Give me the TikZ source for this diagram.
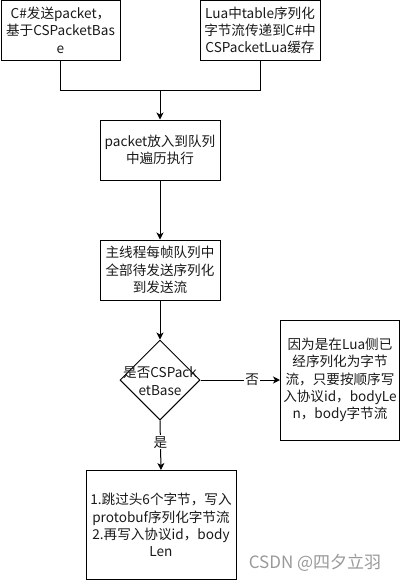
\documentclass[tikz,border=0pt]{standalone}
\usepackage{fontspec}
\setmainfont{Noto Sans CJK SC}
\usetikzlibrary{arrows.meta,shapes.geometric}
\newcommand\fs{\fontsize{13.6}{17.3}\selectfont}
\begin{document}
\begin{tikzpicture}[x=1pt,y=-1pt, line width=1pt,
 box/.style={draw, rectangle, inner sep=0pt, align=center, font=\fs, text=black!90},
 arr/.style={-{Stealth[length=7pt,width=7pt,inset=2pt]}},
 lbl/.style={fill=white, inner sep=1pt, font=\fs, text=black!90}]
\useasboundingbox (0,0) rectangle (401,581);
\node[box, minimum width=119pt, minimum height=59.5pt] (b1) at (60.5,30.25) {C\#发送packet，\\基于CSPacketBas\\e};
\node[box, minimum width=120pt, minimum height=59.5pt] (b2) at (260,30.25) {Lua中table序列化\\字节流传递到C\#中\\CSPacketLua缓存};
\node[box, minimum width=120pt, minimum height=60pt] (b3) at (160,150) {packet放入到队列\\中遍历执行};
\node[box, minimum width=120pt, minimum height=60pt] (b4) at (160,270) {主线程每帧队列中\\全部待发送序列化\\到发送流};
\node[draw, diamond, minimum width=80pt, minimum height=80pt, inner sep=0pt] (d) at (160,380) {};
\node[align=center, font=\fs, text=black!90, inner sep=0pt] (dt) at (160,381) {是否CSPack\\etBase};
\node[box, minimum width=119pt, minimum height=120pt] (b5) at (340,380) {因为是在Lua侧已\\经序列化为字节\\流，只要按顺序写\\入协议id，bodyLe\\n，body字节流};
\node[box, minimum width=150pt, minimum height=109pt] (b6) at (161,525) {1.跳过头6个字节，写入\\protobuf序列化字节流\\2.再写入协议id，body\\Len};
\coordinate (jm) at (160,90);
\draw (b1.south) |- (jm);
\draw (b2.south) |- (jm);
\draw[arr] (jm) -- (b3.north);
\draw[arr] (b3.south) -- (b4.north);
\draw[arr] (b4.south) -- (d.north);
\draw[arr] (d.east) -- node[lbl, pos=0.65] (no) {否} (b5.west);
\draw[arr] (d.south) -- node[lbl, pos=0.44] (yes) {是} (b6.north);
\node[text=black!40, font=\fontsize{17}{20}\selectfont, inner sep=0pt] (wm) at (315,563) {CSDN @四夕立羽};
\end{tikzpicture}
\end{document}
